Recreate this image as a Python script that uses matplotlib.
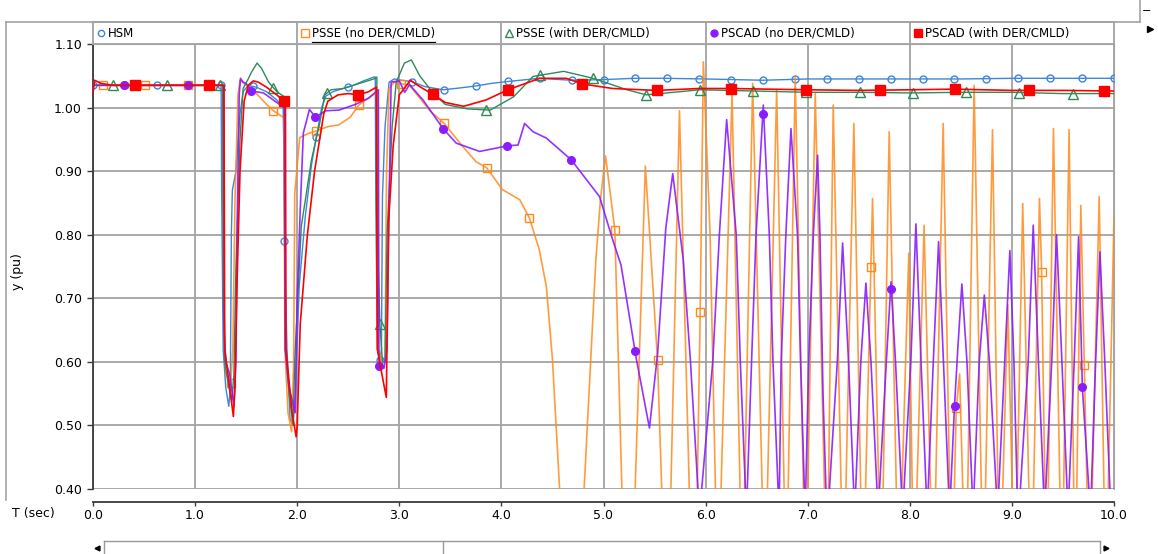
import numpy as np
import matplotlib
matplotlib.use("Agg")
import matplotlib.pyplot as plt
from matplotlib.lines import Line2D
from matplotlib.ticker import FormatStrFormatter

W, H = 1158, 554

# ---------------- series data: time (s) / voltage (pu) ----------------
hsm_t = [0.00, 1.255, 1.26, 1.275, 1.30, 1.33, 1.345, 1.355, 1.365, 1.40, 1.44, 1.47, 1.52, 1.60,
         1.70, 1.80, 1.862, 1.868, 1.875, 1.90, 1.93, 1.96, 1.985, 2.02, 2.08, 2.14, 2.19, 2.24,
         2.28, 2.35, 2.45, 2.55, 2.65, 2.75, 2.765, 2.77, 2.785, 2.81, 2.825, 2.835, 2.86, 2.90,
         2.95, 3.02, 3.12, 3.25, 3.43, 3.60, 3.75, 3.90, 4.06, 4.37, 4.68, 5.00, 5.30, 5.60, 6.00,
         6.56, 7.00, 7.50, 8.00, 8.50, 9.00, 9.50, 10.00]
hsm_v = [1.035, 1.035, 0.87, 0.62, 0.56, 0.53, 0.56, 0.80, 0.87, 0.90, 0.99, 1.025, 1.035, 1.032,
         1.025, 1.012, 1.000, 0.95, 0.79, 0.62, 0.51, 0.50, 0.56, 0.72, 0.83, 0.91, 0.956, 1.000,
         1.018, 1.025, 1.030, 1.035, 1.042, 1.048, 1.048, 0.85, 0.62, 0.60, 0.62, 0.86, 0.97, 1.040,
         1.045, 1.043, 1.041, 1.033, 1.028, 1.031, 1.034, 1.038, 1.041, 1.046, 1.043, 1.044, 1.046,
         1.046, 1.045, 1.043, 1.045, 1.045, 1.045, 1.045, 1.046, 1.046, 1.046]

psse_no_t = [0.00, 1.27, 1.28, 1.30, 1.349, 1.37, 1.39, 1.42, 1.44, 1.50, 1.60, 1.70, 1.767, 1.87,
             1.88, 1.91, 1.945, 1.965, 1.976, 2.025, 2.12, 2.185, 2.30, 2.41, 2.52, 2.603, 2.70,
             2.79, 2.795, 2.83, 2.86, 2.875, 2.90, 2.95, 3.10, 3.20, 3.30, 3.44, 3.62, 3.75, 3.857,
             4.01, 4.18, 4.275, 4.37, 4.44, 4.50, 4.57, 4.69, 4.81, 4.925, 4.97, 5.02, 5.111, 5.18,
             5.245, 5.31, 5.41, 5.53, 5.57, 5.62, 5.66, 5.744, 5.84, 5.90, 5.947, 5.978, 6.044,
             6.12, 6.259, 6.36, 6.461, 6.58, 6.696, 6.79, 6.878, 6.98, 7.074, 7.19, 7.25, 7.35,
             7.452, 7.54, 7.635, 7.72, 7.798, 7.89, 7.99, 8.04, 8.14, 8.23, 8.327, 8.41, 8.455,
             8.488, 8.55, 8.63, 8.72, 8.81, 8.88, 8.96, 9.03, 9.106, 9.19, 9.27, 9.291, 9.34, 9.407,
             9.49, 9.56, 9.62, 9.675, 9.76, 9.855, 9.92, 10.00]
psse_no_v = [1.035, 1.035, 0.70, 0.58, 0.567, 0.62, 0.85, 1.02, 1.043, 1.035, 1.022, 1.005, 0.995,
             0.984, 0.62, 0.52, 0.49, 0.60, 0.865, 0.953, 0.960, 0.963, 0.970, 0.973, 0.985, 1.004,
             1.015, 1.025, 0.62, 0.60, 0.60, 0.90, 1.030, 1.040, 1.035, 1.015, 0.995, 0.975, 0.939,
             0.915, 0.905, 0.871, 0.855, 0.826, 0.777, 0.719, 0.604, 0.40, 0.15, 0.40, 0.76, 0.855,
             0.924, 0.808, 0.40, 0.20, 0.40, 0.908, 0.60, 0.40, 0.25, 0.40, 0.995, 0.40, 0.22,
             0.678, 1.072, 0.80, 0.22, 1.022, 0.22, 1.038, 0.22, 1.028, 0.22, 1.049, 0.22, 1.022,
             0.22, 1.004, 0.22, 0.975, 0.22, 0.857, 0.22, 0.962, 0.22, 0.771, 0.22, 0.815, 0.22,
             0.975, 0.22, 0.527, 0.581, 0.22, 1.035, 0.22, 0.965, 0.22, 0.69, 0.22, 0.849, 0.22,
             0.857, 0.742, 0.22, 0.967, 0.22, 0.965, 0.22, 0.846, 0.22, 0.86, 0.22, 0.828]

psse_der_t = [0.00, 1.27, 1.275, 1.29, 1.33, 1.36, 1.38, 1.40, 1.44, 1.47, 1.52, 1.55, 1.607, 1.65,
              1.72, 1.80, 1.875, 1.885, 1.92, 1.96, 1.976, 2.04, 2.14, 2.22, 2.27, 2.33, 2.45, 2.55,
              2.65, 2.75, 2.78, 2.785, 2.81, 2.835, 2.86, 2.88, 2.93, 2.97, 3.05, 3.118, 3.20,
              3.336, 3.45, 3.662, 3.89, 4.12, 4.31, 4.61, 4.90, 5.23, 5.42, 5.75, 5.94, 6.50, 7.00,
              7.50, 8.00, 8.50, 9.00, 9.50, 10.00]
psse_der_v = [1.035, 1.035, 0.70, 0.60, 0.56, 0.54, 0.58, 0.75, 0.95, 1.03, 1.045, 1.055, 1.07,
              1.062, 1.040, 1.025, 1.017, 0.62, 0.55, 0.50, 0.603, 0.813, 0.918, 0.975, 1.020,
              1.028, 1.030, 1.035, 1.040, 1.045, 1.048, 0.80, 0.66, 0.60, 0.60, 0.80, 0.97, 1.040,
              1.070, 1.075, 1.050, 1.022, 1.005, 0.998, 0.996, 1.017, 1.049, 1.057, 1.046, 1.028,
              1.020, 1.025, 1.028, 1.026, 1.024, 1.024, 1.023, 1.024, 1.024, 1.022, 1.022]

pscad_no_t = [0.00, 1.28, 1.285, 1.30, 1.34, 1.38, 1.40, 1.415, 1.432, 1.445, 1.47, 1.50, 1.553,
              1.67, 1.80, 1.875, 1.882, 1.92, 1.98, 2.00, 2.03, 2.06, 2.12, 2.178, 2.28, 2.41,
              2.57, 2.70, 2.795, 2.80, 2.804, 2.85, 2.88, 2.90, 2.92, 3.00, 3.053, 3.10, 3.232,
              3.428, 3.558, 3.787, 4.065, 4.163, 4.227, 4.31, 4.44, 4.683, 4.961, 5.09, 5.172,
              5.32, 5.45, 5.53, 5.61, 5.678, 5.78, 5.85, 5.94,
              6.07, 6.135, 6.206, 6.30, 6.34, 6.40,
              6.45, 6.494, 6.565, 6.624, 6.66, 6.72,
              6.74, 6.786, 6.836, 6.90, 6.93, 6.975,
              7.01, 7.055, 7.097, 7.12, 7.15, 7.19,
              7.29, 7.342, 7.40, 7.46,
              7.52, 7.57, 7.62, 7.69,
              7.77, 7.816, 7.86, 7.93,
              8.01, 8.06, 8.11, 8.17,
              8.23, 8.282, 8.33, 8.39,
              8.438, 8.47, 8.51, 8.56, 8.62,
              8.68, 8.73, 8.78, 8.86,
              8.93, 8.98, 9.02, 9.06,
              9.16, 9.209, 9.26, 9.32,
              9.39, 9.437, 9.49, 9.55,
              9.61, 9.653, 9.69, 9.77,
              9.82, 9.862, 9.91, 9.97, 10.00]
pscad_no_v = [1.035, 1.035, 0.65, 0.60, 0.58, 0.53, 0.60, 0.85, 1.02, 1.046, 1.040, 1.038, 1.026,
              1.023, 1.008, 1.000, 0.62, 0.56, 0.52, 0.70, 0.84, 0.96, 0.997, 0.985, 0.995, 0.996,
              1.005, 1.015, 1.028, 0.62, 0.594, 0.59, 0.62, 0.85, 1.040, 1.042, 1.024, 1.036, 1.012,
              0.967, 0.944, 0.931, 0.940, 0.941, 0.975, 0.962, 0.952, 0.918, 0.860, 0.792, 0.752,
              0.606, 0.496, 0.613, 0.81, 0.896, 0.762, 0.605, 0.36,
              0.60, 0.80, 0.981, 0.80, 0.60, 0.36,
              0.60, 0.80, 1.004, 0.80, 0.60, 0.36,
              0.60, 0.80, 0.967, 0.80, 0.60, 0.36,
              0.60, 0.80, 0.925, 0.80, 0.55, 0.34,
              0.60, 0.787, 0.60, 0.36,
              0.60, 0.724, 0.60, 0.36,
              0.60, 0.726, 0.60, 0.36,
              0.60, 0.817, 0.60, 0.36,
              0.60, 0.789, 0.60, 0.36,
              0.531, 0.62, 0.7225, 0.60, 0.36,
              0.60, 0.705, 0.60, 0.36,
              0.60, 0.775, 0.60, 0.34,
              0.60, 0.815, 0.60, 0.36,
              0.60, 0.800, 0.60, 0.36,
              0.60, 0.797, 0.56, 0.36,
              0.60, 0.773, 0.60, 0.36, 0.40]

pscad_der_t = [0.00, 0.015, 0.08, 0.20, 1.283, 1.29, 1.33, 1.375, 1.39, 1.41, 1.44, 1.48, 1.52,
               1.57, 1.62, 1.70, 1.80, 1.87, 1.885, 1.89, 1.95, 1.99, 2.00, 2.03, 2.10, 2.17,
               2.26, 2.30, 2.40, 2.50, 2.60, 2.70, 2.775, 2.785, 2.83, 2.873, 2.885, 2.895, 2.94,
               3.00, 3.108, 3.20, 3.336, 3.45, 3.63, 3.85, 4.064, 4.374, 4.635, 4.80, 5.09, 5.52,
               5.94, 6.25, 6.60, 7.00, 7.50, 8.00, 8.44, 9.00, 9.50, 10.00]
pscad_der_v = [1.022, 1.043, 1.038, 1.035, 1.035, 0.62, 0.57, 0.514, 0.56, 0.72, 0.90, 1.010,
               1.035, 1.042, 1.040, 1.032, 1.020, 1.010, 1.005, 0.62, 0.52, 0.482, 0.50, 0.66,
               0.80, 0.90, 0.99, 1.010, 1.020, 1.022, 1.020, 1.025, 1.032, 0.62, 0.58, 0.544,
               0.70, 0.82, 0.94, 1.020, 1.043, 1.033, 1.020, 1.008, 1.002, 1.012, 1.028, 1.046,
               1.046, 1.037, 1.030, 1.027, 1.030, 1.030, 1.029, 1.028, 1.027, 1.028, 1.029, 1.027,
               1.027, 1.026]

labels = ["HSM", "PSSE (no DER/CMLD)", "PSSE (with DER/CMLD)",
          "PSCAD (no DER/CMLD)", "PSCAD (with DER/CMLD)"]
x_ticks = [0, 1, 2, 3, 4, 5, 6, 7, 8, 9, 10]
y_ticks = [0.40, 0.50, 0.60, 0.70, 0.80, 0.90, 1.00, 1.10]

series = [(hsm_t, hsm_v), (psse_no_t, psse_no_v), (psse_der_t, psse_der_v),
          (pscad_no_t, pscad_no_v), (pscad_der_t, pscad_der_v)]

# line / marker styling: colour, marker, filled, marker size, first marker time, marker spacing
styles = [
    dict(color="#3d86d9", marker="o", filled=False, ms=5.0, m0=0.0, dm=0.3125, lw=1.0, alpha=1.0, z=3),
    dict(color="#ff8a1c", marker="s", filled=False, ms=6.0, m0=0.095, dm=0.418, lw=1.2, alpha=0.85, z=4),
    dict(color="#2e8b57", marker="^", filled=False, ms=6.5, m0=0.2, dm=0.522, lw=1.0, alpha=1.0, z=5),
    dict(color="#8a1cff", marker="o", filled=True, ms=5.5, m0=0.30, dm=0.626, lw=1.2, alpha=0.9, z=6),
    dict(color="#ff0000", marker="s", filled=True, ms=6.5, m0=0.41, dm=0.73, lw=1.2, alpha=1.0, z=7),
]

plt.rcParams["font.family"] = ["DejaVu Sans"]
fig = plt.figure(figsize=(W / 100, H / 100), dpi=100)
fig.patch.set_facecolor("white")


def fx(x):
    return x / W


def fy(y):
    return 1 - y / H


grid_col = "#a3a3a3"
dark = "#3a3a3a"
PT = 72 / 100  # points per pixel at 100 dpi

# ---------------- main plot ----------------
ax = fig.add_axes([fx(93), fy(489), 1021 / W, 445 / H])
ax.set_xlim(0, 10)
ax.set_ylim(0.4, 1.1)
ax.set_xticks(x_ticks)
ax.set_yticks(y_ticks)
ax.xaxis.set_major_formatter(FormatStrFormatter("%.1f"))
ax.yaxis.set_major_formatter(FormatStrFormatter("%.2f"))
ax.grid(True, color=grid_col, lw=1.3)
ax.set_axisbelow(True)
ax.spines["bottom"].set_position(("outward", 13 * PT))
ax.spines["bottom"].set_color(dark)
ax.spines["bottom"].set_linewidth(1.3)
ax.spines["left"].set_color(dark)
ax.spines["left"].set_linewidth(1.3)
ax.spines["right"].set_color(grid_col)
ax.spines["top"].set_color(grid_col)
ax.tick_params(axis="y", direction="out", length=6 * PT, width=1, color=dark,
               labelsize=9, pad=5 * PT, labelcolor="black")
ax.tick_params(axis="x", direction="out", length=4 * PT, width=1, color=dark,
               labelsize=9, pad=3 * PT, labelcolor="black")
ax.set_ylabel("y (pu)", fontsize=9)
ax.yaxis.set_label_coords(-(93 - 24) / 1021, 0.488)

for (t, v), st in zip(series, styles):
    t = np.asarray(t)
    v = np.asarray(v)
    ax.plot(t, v, color=st["color"], lw=st["lw"], alpha=st["alpha"], zorder=st["z"])
    tm = np.arange(st["m0"], 10.0001, st["dm"])
    vm = np.interp(tm, t, v)
    ax.plot(tm, vm, ls="none", marker=st["marker"], ms=st["ms"], mew=1.0,
            mec=st["color"], mfc=st["color"] if st["filled"] else "none", zorder=st["z"] + 0.5)

fig.text(fx(12), fy(513), "T (sec)", fontsize=9, ha="left", va="center")

# ---------------- legend header row ----------------
hax = fig.add_axes([fx(93), fy(44), 1021 / W, 22 / H])
hax.set_xlim(0, 5)
hax.set_ylim(0, 1)
hax.set_xticks([])
hax.set_yticks([])
for s in hax.spines.values():
    s.set_color(grid_col)
    s.set_linewidth(1.3)
for i in range(1, 5):
    hax.axvline(i, color=grid_col, lw=1.3)
cell_px = 1021 / 5
texts = []
for i, (lab, st) in enumerate(zip(labels, styles)):
    hax.plot([i + 8 / cell_px], [0.5], ls="none", marker=st["marker"], ms=st["ms"] - 0.5,
             mew=1.0, mec=st["color"], mfc=st["color"] if st["filled"] else "none")
    texts.append(hax.text(i + 15 / cell_px, 0.48, lab, fontsize=8.5, ha="left", va="center"))

fig.canvas.draw()
bb = texts[1].get_window_extent()
hax.add_line(Line2D([bb.x0 / W, bb.x1 / W], [fy(41.5), fy(41.5)], transform=fig.transFigure,
                    color="black", lw=0.9))

# ---------------- window frame decorations ----------------
frame = dict(color=grid_col, lw=1.2, transform=fig.transFigure)
fig.add_artist(Line2D([fx(6), fx(1140)], [fy(22), fy(22)], **frame))
fig.add_artist(Line2D([fx(6), fx(6)], [fy(22), fy(500)], **frame))
fig.add_artist(Line2D([fx(1140), fx(1140)], [fy(0), fy(22)], **frame))
fig.text(fx(1147), fy(11), "\u2212", fontsize=8, ha="center", va="center")
fig.add_artist(Line2D([fx(1150)], [fy(29)], marker=">", ms=4, color="black",
                      transform=fig.transFigure))

# scroll bar
sb = dict(color="#9a9a9a", lw=1.0, transform=fig.transFigure)
fig.add_artist(Line2D([fx(104), fx(1100)], [fy(541), fy(541)], **sb))
for xx in (104, 443, 1100):
    fig.add_artist(Line2D([fx(xx), fx(xx)], [fy(541), fy(554)], **sb))
fig.add_artist(Line2D([fx(97)], [fy(548)], marker="<", ms=3.5, color="black",
                      transform=fig.transFigure))
fig.add_artist(Line2D([fx(1106)], [fy(548)], marker=">", ms=3.5, color="black",
                      transform=fig.transFigure))

fig.savefig("out.png", dpi=100, facecolor="white")
